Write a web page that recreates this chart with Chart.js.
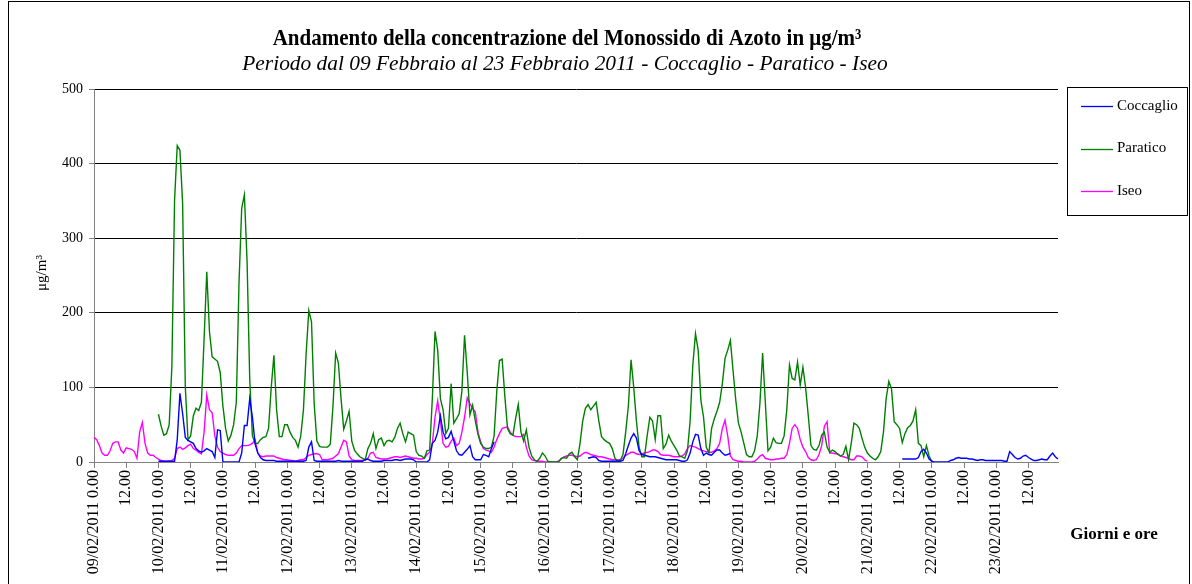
<!DOCTYPE html>
<html>
<head>
<meta charset="utf-8">
<script src="https://cdn.jsdelivr.net/npm/chart.js@4/dist/chart.umd.min.js"></script>
<style>
  html, body { margin: 0; padding: 0; background: #fff; }
  #wrap { width: 1192px; height: 584px; position: relative; }
</style>
</head>
<body>
<div id="wrap"><canvas id="chart" width="1192" height="584"></canvas></div>
<script>
// Hourly NO concentrations (µg/m³), 09/02/2011 00:00 – 23/02/2011 23:00, one row per day.
const _ = null;

const days = ['09/02/2011', '10/02/2011', '11/02/2011', '12/02/2011', '13/02/2011',
              '14/02/2011', '15/02/2011', '16/02/2011', '17/02/2011', '18/02/2011',
              '19/02/2011', '20/02/2011', '21/02/2011', '22/02/2011', '23/02/2011'];

const coccaglio = [
  _, _, _, _, _, _, _, _, _, _, _, _, _, _, _, _, _, _, _, _, _, _, _, _,
  1, 1, 1, 1, 1, 1, 1, 30, 92, 65, 33, 29, 27, 25, 18, 15, 13, 15, 18, 16, 14, 6, 43, 42,
  0, 0, 0, 0, 0, 0, 0, 12, 49, 49, 85, 60, 24, 12, 6, 3, 2, 2, 2, 2, 1, 1, 1, 1,
  1, 1, 1, 1, 1, 1, 1, 2, 20, 27, 2, 1, 1, 1, 1, 1, 1, 1, 1, 2, 1, 1, 1, 1,
  1, 1, 1, 1, 1, 3, 4, 2, 1, 1, 1, 1, 2, 2, 2, 2, 3, 3, 2, 3, 4, 4, 4, 3,
  0, 0, 0, 0, 0, 3, 25, 29, 40, 62, 40, 31, 33, 41, 28, 15, 10, 9, 13, 17, 22, 7, 3, 3,
  3, 10, 9, 7, 18, 27, _, _, _, _, _, _, _, _, _, _, _, _, _, _, _, _, _, _,
  _, _, _, _, _, _, _, _, _, _, _, _, _, _, _, _, 5, 6, 7, 6, 2, 1, 1, 1,
  1, 1, 1, 1, 1, 2, 11, 22, 32, 38, 32, 15, 10, 9, 8, 7, 7, 7, 6, 5, 4, 3, 3, 3,
  3, 3, 2, 1, 1, 3, 12, 27, 37, 36, 18, 9, 12, 10, 9, 13, 16, 16, 12, 9, 10, 12, _, _,
  _, _, _, _, _, _, _, _, _, _, _, _, _, _, _, _, _, _, _, _, _, _, _, _,
  _, _, _, _, _, _, _, _, _, _, _, _, _, _, _, _, _, _, _, _, _, _, _, _,
  _, _, _, _, _, _, _, _, _, _, _, _, _, 4, 4, 4, 4, 4, 4, 6, 14, 17, 12, 4,
  1, 0, 0, 0, 0, 0, 0, 2, 3, 5, 6, 5, 5, 5, 4, 4, 3, 2, 3, 3, 2, 2, 2, 2,
  2, 2, 2, 1, 1, 14, 10, 6, 4, 5, 8, 9, 6, 4, 2, 2, 3, 4, 3, 3, 8, 12, 7, 4
];

const paratico = [
  _, _, _, _, _, _, _, _, _, _, _, _, _, _, _, _, _, _, _, _, _, _, _, _,
  64, 48, 36, 38, 50, 128, 351, 424, 418, 347, 101, 30, 35, 62, 72, 69, 80, 165, 255, 175, 141, 138, 135, 120,
  75, 45, 28, 36, 50, 80, 240, 340, 358, 270, 110, 35, 25, 25, 30, 33, 34, 45, 100, 143, 70, 34, 34, 50,
  50, 40, 33, 29, 20, 35, 70, 145, 203, 188, 78, 28, 21, 20, 20, 20, 24, 75, 146, 133, 85, 44, 55, 68,
  28, 16, 11, 7, 5, 3, 18, 25, 38, 18, 30, 32, 22, 28, 29, 27, 33, 45, 52, 38, 27, 40, 38, 36,
  14, 9, 8, 5, 15, 16, 85, 175, 150, 85, 70, 38, 45, 105, 52, 58, 65, 95, 170, 120, 63, 76, 55, 37,
  25, 20, 18, 18, 20, 35, 95, 136, 138, 88, 45, 38, 36, 58, 77, 40, 28, 43, 20, 8, 3, 1, 5, 12,
  8, 1, 0, 0, 0, 0, 5, 6, 5, 11, 13, 7, 3, 25, 55, 72, 77, 70, 75, 80, 55, 34, 30, 27,
  25, 18, 5, 1, 2, 10, 40, 75, 137, 100, 55, 20, 7, 7, 35, 60, 55, 30, 62, 62, 18, 24, 36, 28,
  22, 16, 8, 7, 5, 15, 55, 130, 172, 150, 83, 60, 20, 12, 45, 58, 68, 80, 105, 139, 150, 163, 122, 83,
  52, 40, 25, 10, 7, 7, 15, 35, 79, 146, 80, 15, 20, 32, 26, 25, 25, 35, 70, 130, 112, 110, 134, 103,
  127, 100, 62, 22, 17, 16, 22, 36, 40, 20, 13, 16, 14, 10, 8, 10, 21, 3, 25, 52, 50, 45, 32, 20,
  12, 8, 5, 3, 7, 14, 40, 85, 108, 98, 54, 50, 45, 26, 38, 46, 49, 55, 70, 25, 22, 7, 22, 8,
  1, _, _, _, _, _, _, _, _, _, _, _, _, _, _, _, _, _, _, _, _, _, _, _,
  _, _, _, _, _, _, _, _, _, _, _, _, _, _, _, _, _, _, _, _, _, _, _, _
];

const iseo = [
  33, 30, 22, 12, 9, 9, 15, 25, 27, 27, 16, 12, 19, 18, 17, 14, 5, 40, 53, 25, 12, 9, 9, 6,
  4, 2, 1, 1, 1, 2, 5, 18, 20, 17, 19, 22, 24, 18, 16, 13, 11, 40, 90, 70, 66, 35, 20, 14,
  12, 10, 9, 9, 9, 12, 18, 22, 22, 22, 23, 25, 30, 12, 8, 7, 8, 8, 8, 8, 6, 5, 4, 3,
  3, 2, 2, 1, 2, 3, 3, 6, 9, 10, 11, 11, 10, 3, 3, 3, 4, 5, 8, 11, 20, 29, 27, 8,
  3, 2, 2, 2, 2, 3, 5, 12, 13, 6, 5, 4, 4, 4, 5, 6, 7, 7, 6, 7, 8, 7, 6, 5,
  5, 4, 4, 5, 10, 13, 25, 60, 82, 55, 25, 20, 21, 28, 32, 22, 25, 40, 60, 86, 78, 72, 67, 40,
  27, 18, 16, 15, 13, 20, 30, 38, 45, 46, 47, 40, 36, 34, 34, 34, 37, 20, 8, 3, 2, 1, 1, 1,
  0, 0, 0, 0, 0, 1, 4, 7, 8, 9, 9, 8, 7, 8, 11, 13, 12, 10, 9, 8, 7, 7, 6, 5,
  4, 3, 3, 3, 3, 5, 9, 11, 13, 13, 11, 10, 11, 12, 13, 14, 16, 16, 14, 10, 9, 9, 9, 8,
  7, 7, 7, 8, 11, 18, 22, 21, 20, 18, 16, 15, 14, 13, 13, 15, 18, 25, 45, 56, 35, 8, 3, 2,
  1, 1, 0, 0, 0, 0, 1, 4, 8, 10, 5, 4, 3, 3, 4, 4, 5, 5, 10, 25, 45, 50, 45, 30,
  20, 14, 6, 3, 2, 3, 10, 22, 48, 54, 12, 12, 11, 11, 8, 7, 6, 5, 3, 3, 8, 8, 7, 3,
  1, _, _, _, _, _, _, _, _, _, _, _, _, _, _, _, _, _, _, _, _, _, _, _,
  _, _, _, _, _, _, _, _, _, _, _, _, _, _, _, _, _, _, _, _, _, _, _, _,
  _, _, _, _, _, _, _, _, _, _, _, _, _, _, _, _, _, _, _, _, _, _, _, _
];

const yTicks = [0, 100, 200, 300, 400, 500];

// One category per hour: "dd/mm/yyyy h.00"
const categories = [];
days.forEach(d => { for (let h = 0; h < 24; h++) categories.push(d + ' ' + h + '.00'); });

function tickLabel(i) {
  const h = i % 24;
  if (h === 0) return categories[i];
  if (h === 12) return '12.00';
  return '';
}

const SERIF = '"Liberation Serif", "Times New Roman", serif';

const series = [
  { label: 'Coccaglio', data: coccaglio, color: '#0000ff' },
  { label: 'Paratico',  data: paratico,  color: '#008000' },
  { label: 'Iseo',      data: iseo,      color: '#ff00ff' }
];

// Frame, titles, axis captions and the boxed legend.
const decor = {
  id: 'decor',
  afterDraw(chart) {
    const c = chart.ctx;
    c.save();
    c.strokeStyle = '#000';
    c.lineWidth = 1;
    c.strokeRect(8.5, 1.5, 1181, 620);

    c.fillStyle = '#000';
    c.textAlign = 'center';
    c.textBaseline = 'alphabetic';
    c.save();
    c.translate(567, 45);
    c.scale(1, 1.12);
    c.font = 'bold 21px ' + SERIF;
    c.fillText('Andamento della concentrazione del Monossido di Azoto in \u03bcg/m\u00b3', 0, 0);
    c.restore();
    c.font = 'italic 21.4px ' + SERIF;
    c.fillText('Periodo dal 09 Febbraio al 23 Febbraio 2011 - Coccaglio - Paratico - Iseo', 565, 70);

    // y-axis caption
    c.save();
    c.translate(42, 273);
    c.rotate(-Math.PI / 2);
    c.font = '15px ' + SERIF;
    c.textBaseline = 'middle';
    c.fillText('\u03bcg/m\u00b3', 0, 0);
    c.restore();

    // x-axis caption
    c.font = 'bold 17px ' + SERIF;
    c.textBaseline = 'middle';
    c.fillText('Giorni e ore', 1114, 535);

    // legend
    c.strokeRect(1067.5, 87.5, 120, 128);
    c.textAlign = 'left';
    c.font = '15px ' + SERIF;
    series.forEach((s, k) => {
      const y = 106 + k * 42.5;
      c.strokeStyle = s.color;
      c.lineWidth = 1.3;
      c.beginPath();
      c.moveTo(1081, Math.round(y) + 0.5);
      c.lineTo(1113, Math.round(y) + 0.5);
      c.stroke();
      c.fillStyle = '#000';
      c.fillText(s.label, 1117, y);
    });
    c.restore();
  }
};

new Chart(document.getElementById('chart'), {
  type: 'line',
  data: {
    labels: categories,
    datasets: series.map(s => ({
      label: s.label,
      data: s.data,
      borderColor: s.color,
      backgroundColor: s.color,
      borderWidth: 1.4,
      pointRadius: 0,
      tension: 0,
      spanGaps: false,
      fill: false
    }))
  },
  options: {
    responsive: false,
    animation: false,
    events: [],
    layout: { padding: { left: 8, right: 134, top: 89, bottom: 0 } },
    plugins: {
      legend: { display: false },
      title: { display: false },
      tooltip: { enabled: false }
    },
    scales: {
      x: {
        type: 'category',
        offset: false,
        grid: {
          drawOnChartArea: false,
          drawTicks: true,
          tickLength: 6,
          tickColor: ctx => (ctx.index % 12 === 0 ? '#808080' : 'rgba(0,0,0,0)')
        },
        border: { color: '#808080', width: 1 },
        ticks: {
          autoSkip: false,
          maxRotation: 90,
          minRotation: 90,
          padding: 2,
          color: '#000',
          font: { family: SERIF, size: 16 },
          callback: (v, i) => tickLabel(i)
        },
        afterFit: s => { s.height = 122; }
      },
      y: {
        min: yTicks[0],
        max: yTicks[yTicks.length - 1],
        afterBuildTicks: s => { s.ticks = yTicks.map(v => ({ value: v })); },
        grid: {
          color: ctx => (ctx.tick && ctx.tick.value === 0 ? 'rgba(0,0,0,0)' : '#000'),
          tickColor: '#808080',
          tickLength: 5,
          lineWidth: 1
        },
        border: { color: '#808080', width: 1 },
        ticks: {
          padding: 6,
          color: '#000',
          font: { family: SERIF, size: 14 }
        },
        afterFit: s => { s.width = 86; }
      }
    }
  },
  plugins: [decor]
});
</script>
</body>
</html>
